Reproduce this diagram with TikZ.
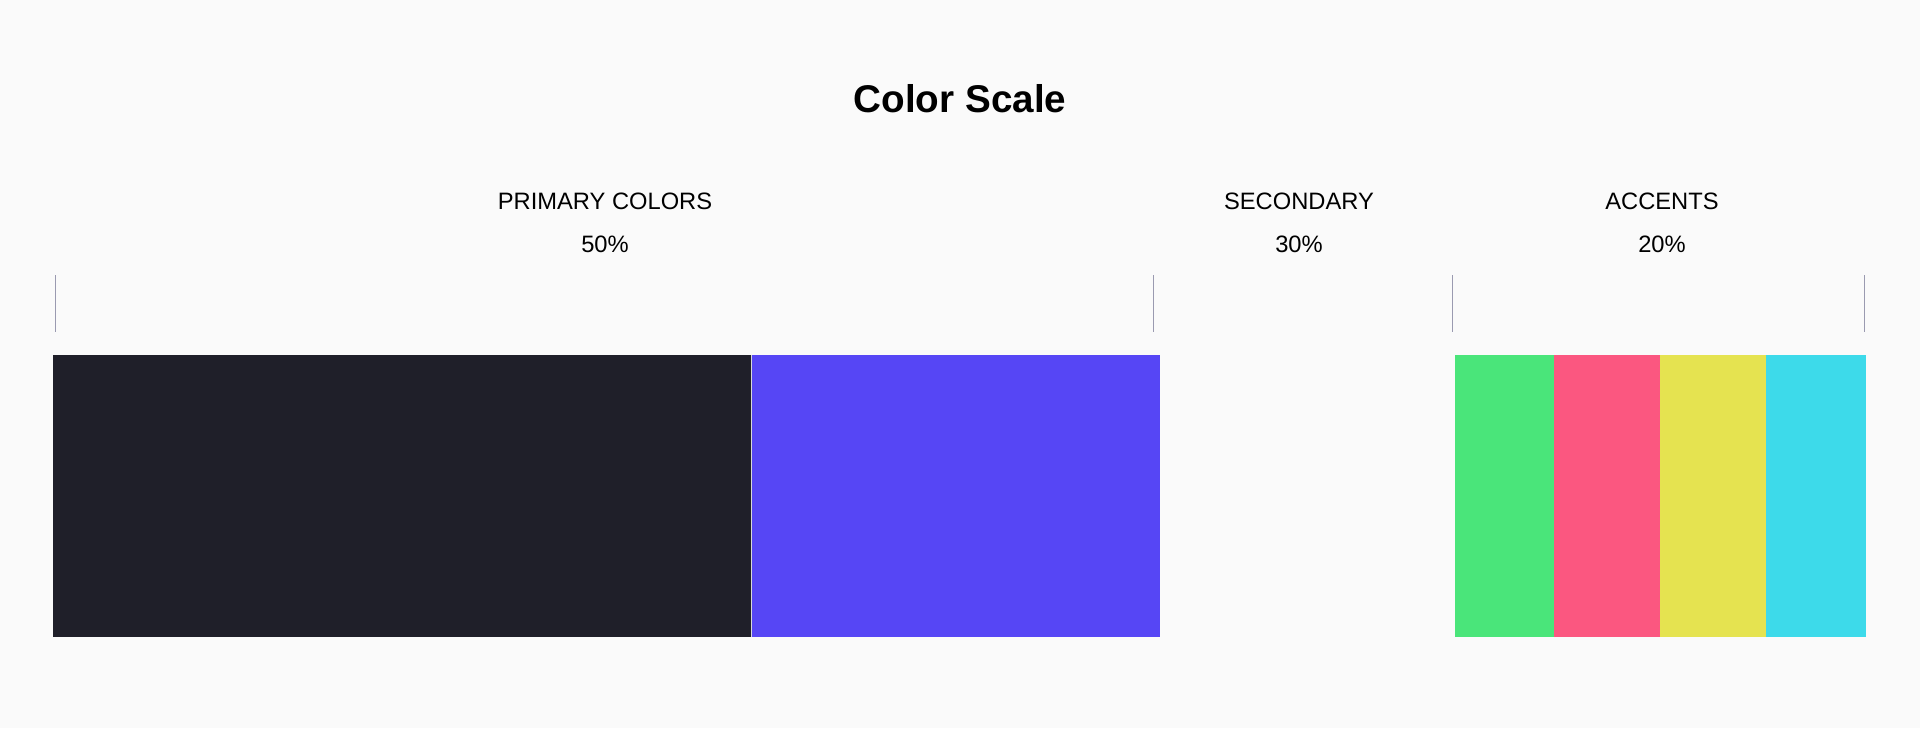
\documentclass[tikz,border=0pt]{standalone}
\usepackage{fontspec}
\setmainfont{Liberation Sans}
\definecolor{bgcol}{HTML}{FAFAFA}
\definecolor{inkcol}{HTML}{1F1F29}
\definecolor{violetcol}{HTML}{5646F5}
\definecolor{greencol}{HTML}{4AE57A}
\definecolor{pinkcol}{HTML}{FB5780}
\definecolor{yellowcol}{HTML}{E5E350}
\definecolor{cyancol}{HTML}{3DDAEA}
\definecolor{tickcol}{HTML}{9A9AB0}
\tikzset{
	grouplabel/.style={text=black, font=\fontsize{13.5}{16}\selectfont, inner sep=0pt},
	scaletick/.style={draw=tickcol, line width=0.5pt}
}
\begin{document}
\begin{tikzpicture}[x=0.02cm,y=-0.02cm]

	\fill[bgcol] (0,0) rectangle (1920,728);

	\node[font=\bfseries\fontsize{22}{26}\selectfont, text=black] (title) at (960,99) {Color Scale};

	\node[grouplabel] (primary) at (605,201) {PRIMARY COLORS};
	\node[grouplabel] (primarypct) at (605,244) {50\%};
	\node[grouplabel] (secondary) at (1299,201) {SECONDARY};
	\node[grouplabel] (secondarypct) at (1299,244) {30\%};
	\node[grouplabel] (accents) at (1662,201) {ACCENTS};
	\node[grouplabel] (accentspct) at (1662,244) {20\%};

	\draw[scaletick] (55,275) -- ++ (0,57);
	\draw[scaletick] (1153,275) -- ++ (0,57);
	\draw[scaletick] (1452,275) -- ++ (0,57);
	\draw[scaletick] (1864,275) -- ++ (0,57);

	\fill[inkcol] (53,355) rectangle ++ (698,282);
	\fill[violetcol] (751,355) rectangle ++ (409,282);
	\fill[greencol] (1455,355) rectangle ++ (99,282);
	\fill[pinkcol] (1554,355) rectangle ++ (106,282);
	\fill[yellowcol] (1660,355) rectangle ++ (106,282);
	\fill[cyancol] (1766,355) rectangle ++ (100,282);
	\draw[white!70!gray, line width=0.3pt] (751,355) -- ++ (0,282);

\end{tikzpicture}
\end{document}
